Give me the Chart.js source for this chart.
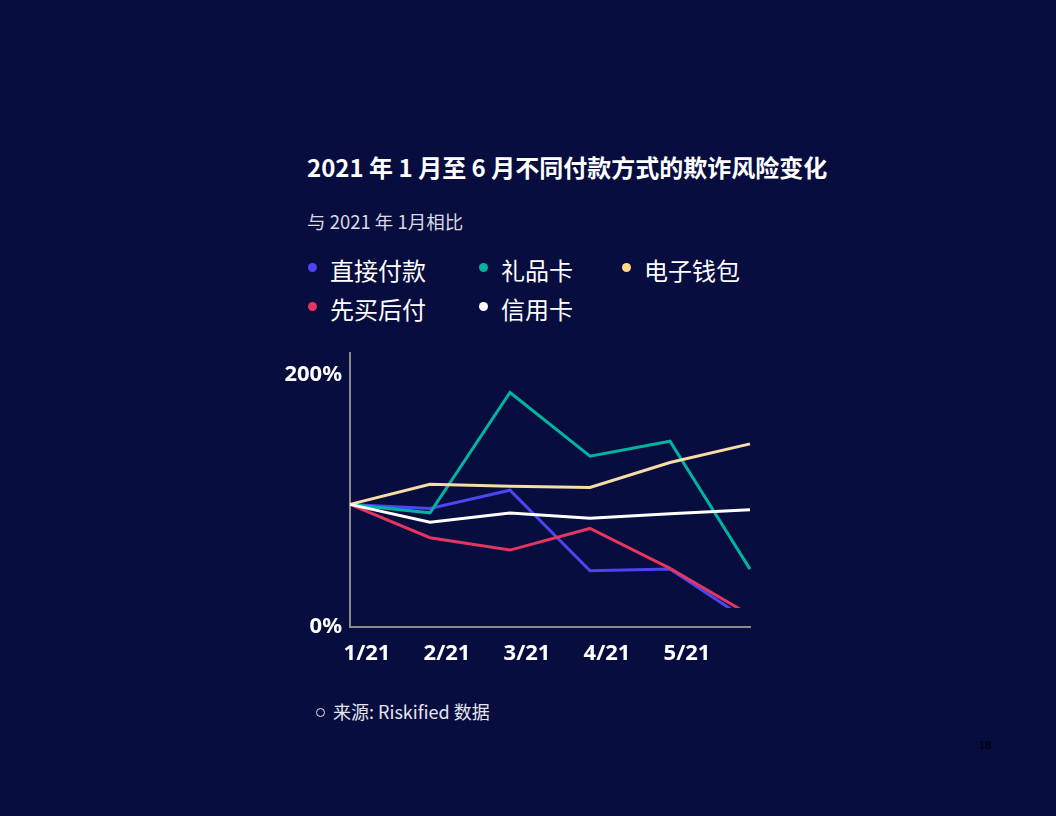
<!DOCTYPE html>
<html lang="zh">
<head>
<meta charset="utf-8">
<script src="https://cdn.jsdelivr.net/npm/chart.js@4/dist/chart.umd.min.js"></script>
<style>
  html, body { margin: 0; padding: 0; }
  body {
    width: 1056px; height: 816px; position: relative; overflow: hidden;
    background: #070d3e; color: #fff;
    font-family: "Noto Sans CJK SC", "Noto Sans", sans-serif;
  }
  .title { position: absolute; left: 307px; top: 149px; font-size: 24px; font-weight: 700; white-space: nowrap; }
  .sub { position: absolute; left: 307px; top: 208px; font-size: 18.5px; color: #d9dae4; white-space: nowrap; }
  .legend { position: absolute; left: 307px; top: 252px; width: 500px; }
  .legend .item { position: absolute; font-size: 24px; white-space: nowrap; padding-left: 23px; }
  .legend .dot { position: absolute; left: 1px; top: 11px; width: 9px; height: 9px; border-radius: 50%; }
  .source { position: absolute; left: 316px; top: 698px; font-size: 18px; color: #e4e5ee; white-space: nowrap; }
  .source .ring { display: inline-block; width: 7px; height: 7px; border: 1px solid #e4e5ee; border-radius: 50%; margin-right: 8px; vertical-align: 2px; }
  .page { position: absolute; left: 979px; top: 739px; font-family: "Liberation Sans", Arial, sans-serif; font-size: 11px; color: #000; }
  #wrap { position: absolute; left: 260px; top: 340px; width: 520px; height: 340px; }
</style>
</head>
<body>
<div class="title">2021 年 1 月至 6 月不同付款方式的欺诈风险变化</div>
<div class="sub">与 2021 年 1月相比</div>
<div class="legend" id="legend"></div>
<div id="wrap"><canvas id="chart"></canvas></div>
<div class="source"><span class="ring"></span>来源: Riskified 数据</div>
<div class="page">18</div>

<script>
// 数据（相对 2021 年 1 月的百分比，按图读取）
const months = ['1/21', '2/21', '3/21', '4/21', '5/21', '6/21'];
const yTicks = [0, 200];

const seriesNames = ['直接付款', '礼品卡', '电子钱包', '先买后付', '信用卡'];
const direct   = [97.4, 94.2, 108.7, 44.7, 46.0, 4.2];
const giftCard = [97.4, 90.7, 186.3, 135.7, 147.6, 46.0];
const eWallet  = [97.4, 113.3, 111.9, 110.9, 130.7, 145.5];
const bnpl     = [97.4, 70.9, 61.1, 78.3, 46.6, 9.5];
const credit   = [97.4, 83.3, 90.5, 86.3, 89.9, 93.1];

const lineColors = ['#4b45f2', '#00b39e', '#f7dca6', '#e1365f', '#ffffff'];
const dotColors  = ['#4b45f2', '#00b39e', '#ffd983', '#e1365f', '#ffffff'];

// 图例（HTML）
const legendPos = [[0, 0], [171, 0], [314, 0], [0, 39], [171, 39]];
const legend = document.getElementById('legend');
seriesNames.forEach((name, i) => {
  const el = document.createElement('div');
  el.className = 'item';
  el.style.left = legendPos[i][0] + 'px';
  el.style.top = legendPos[i][1] + 'px';
  el.innerHTML = `<span class="dot" style="background:${dotColors[i]}"></span>${name}`;
  legend.appendChild(el);
});

const clipLow = { left: 10, top: 10, right: 10, bottom: -19 };
const mk = (idx, data, clip) => ({
  label: seriesNames[idx],
  data: data,
  borderColor: lineColors[idx],
  borderWidth: 3,
  pointRadius: 0,
  tension: 0,
  fill: false,
  clip: clip
});

// 第一个数据集画在最上层
const datasets = [
  mk(4, credit, 10),
  mk(3, bnpl, clipLow),
  mk(2, eWallet, 10),
  mk(1, giftCard, 10),
  mk(0, direct, clipLow)
];

const tickFont = { family: '"Noto Sans", "Open Sans", sans-serif', size: 22, weight: '700' };

new Chart(document.getElementById('chart'), {
  type: 'line',
  data: { labels: months, datasets: datasets },
  options: {
    responsive: true,
    maintainAspectRatio: false,
    animation: false,
    layout: { padding: { top: 8, right: 30, left: 0, bottom: 0 } },
    plugins: { legend: { display: false }, tooltip: { enabled: false } },
    scales: {
      x: {
        offset: false,
        grid: { display: false },
        border: { display: true, color: '#8a8a8a', width: 2 },
        ticks: {
          color: '#ffffff',
          font: tickFont,
          padding: 6,
          labelOffset: 17,
          maxRotation: 0,
          autoSkip: false,
          callback: (v, i) => (i < months.length - 1 ? months[i] : '')
        },
        afterFit: s => { s.height = 53; }
      },
      y: {
        min: 0,
        max: 217.5,
        grid: { display: false },
        border: { display: true, color: '#8a8a8a', width: 2 },
        afterBuildTicks: s => { s.ticks = yTicks.map(v => ({ value: v })); },
        ticks: {
          color: '#ffffff',
          font: tickFont,
          padding: 0,
          callback: v => v + '%'
        },
        afterFit: s => { s.width = 90; }
      }
    }
  }
});
</script>
</body>
</html>
